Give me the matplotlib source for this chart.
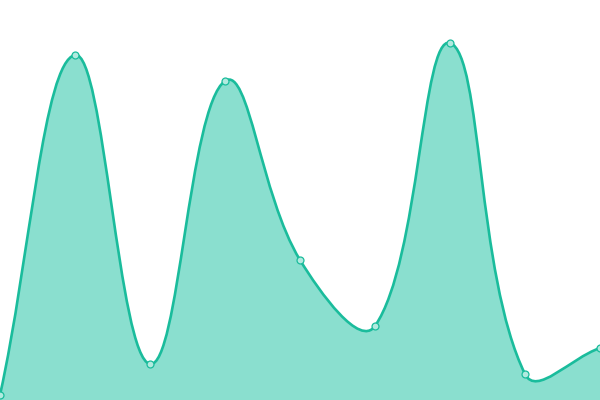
import matplotlib
matplotlib.use("Agg")
import matplotlib.pyplot as plt
from matplotlib.path import Path
from matplotlib.patches import PathPatch

x_vals = [0, 75, 150, 225, 300, 375, 450, 525, 600]
y_vals = [5, 345, 36, 319, 140, 74, 357, 26, 52]

LINE = "#1abc9c"
FILL = "#8adfcf"
TENSION = 0.4

fig = plt.figure(figsize=(6, 4), dpi=100)
ax = fig.add_axes([0, 0, 1, 1])
ax.set_xlim(0, 600)
ax.set_ylim(0, 400)
ax.axis("off")

pts = list(zip(x_vals, y_vals))
n = len(pts)


def dist(a, b):
    return ((a[0] - b[0]) ** 2 + (a[1] - b[1]) ** 2) ** 0.5


# Spline control points (distance-weighted, tension based)
ctrl_prev, ctrl_next = [], []
for i in range(n):
    prv = pts[i - 1] if i > 0 else pts[i]
    cur = pts[i]
    nxt = pts[i + 1] if i < n - 1 else pts[i]
    d01 = dist(prv, cur)
    d12 = dist(cur, nxt)
    tot = d01 + d12
    s01 = d01 / tot if tot else 0
    s12 = d12 / tot if tot else 0
    fa = TENSION * s01
    fb = TENSION * s12
    ctrl_prev.append((cur[0] - fa * (nxt[0] - prv[0]), cur[1] - fa * (nxt[1] - prv[1])))
    ctrl_next.append((cur[0] + fb * (nxt[0] - prv[0]), cur[1] + fb * (nxt[1] - prv[1])))

verts = [pts[0]]
codes = [Path.MOVETO]
for i in range(n - 1):
    verts += [ctrl_next[i], ctrl_prev[i + 1], pts[i + 1]]
    codes += [Path.CURVE4] * 3

line_path = Path(verts, codes)
fill_verts = verts + [(x_vals[-1], 0), (x_vals[0], 0), verts[0]]
fill_codes = codes + [Path.LINETO, Path.LINETO, Path.CLOSEPOLY]
fill_path = Path(fill_verts, fill_codes)

ax.add_patch(PathPatch(fill_path, facecolor=FILL, edgecolor="none", zorder=1))
ax.add_patch(PathPatch(line_path, facecolor="none", edgecolor=LINE, lw=1.9, zorder=2))
ax.plot(x_vals, y_vals, linestyle="none", marker="o", markersize=5,
        markerfacecolor="#b2eadf", markeredgecolor=LINE, markeredgewidth=0.9, zorder=3)

fig.savefig("out.png", dpi=100)
